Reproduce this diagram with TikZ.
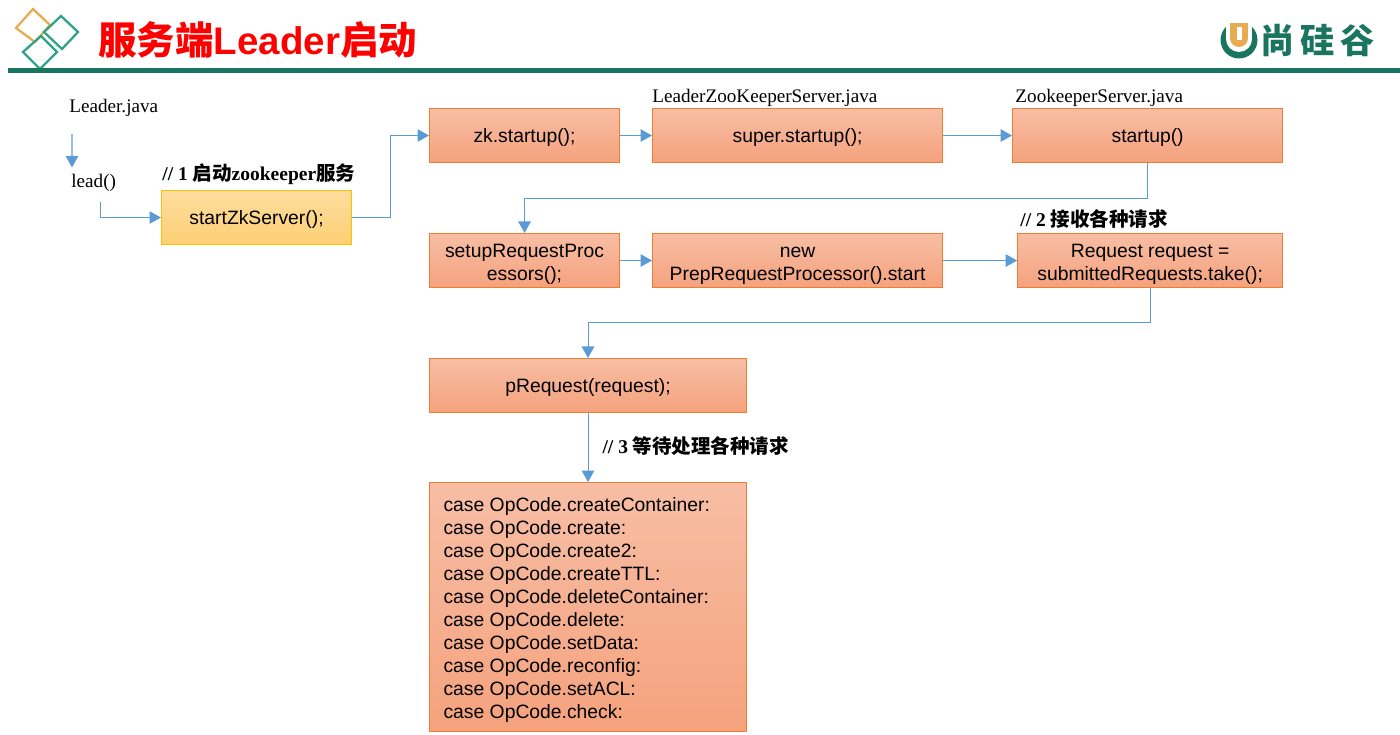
\documentclass[tikz,border=0pt]{standalone}
\usepackage{fontspec}
\setmainfont{Liberation Serif}
\setsansfont{Liberation Sans}
\newfontfamily\cjk{Noto Sans CJK SC}
\definecolor{ProcTop}{RGB}{247,190,165}
\definecolor{ProcBottom}{RGB}{245,162,125}
\definecolor{ProcLine}{RGB}{237,125,49}
\definecolor{StartTop}{RGB}{253,221,160}
\definecolor{StartBottom}{RGB}{252,207,115}
\definecolor{StartLine}{RGB}{255,192,0}
\definecolor{ArrowColor}{RGB}{91,155,213}
\definecolor{BarColor}{RGB}{26,117,96}
\definecolor{LogoGreen}{RGB}{47,163,138}
\definecolor{LogoOrange}{RGB}{232,172,80}
\usetikzlibrary{arrows.meta, positioning}
\newcommand{\linestrut}[1]{\rule{0pt}{#1}}
\tikzset{
    base/.style={
        draw,
        minimum height=1.08cm,
        align=center,
        font=\sffamily\fontsize{11}{13.1}\selectfont,
        inner sep=0pt,
        line width=0.6pt
    },
    process/.style={base, top color=ProcTop, bottom color=ProcBottom, draw=ProcLine},
    start/.style={base, top color=StartTop, bottom color=StartBottom, draw=StartLine},
    plain/.style={inner sep=0pt, font=\fontsize{10.9}{13}\selectfont},
    note/.style={plain, font=\fontsize{11.1}{13}\selectfont\bfseries},
    arrow/.style={-{Triangle[length=0.23cm,width=0.25cm]}, line width=0.6pt, draw=ArrowColor},
    diamondline/.style={line width=1.3pt, line join=miter}
}

\begin{document}
\begin{tikzpicture}
        \useasboundingbox (0,0) rectangle (28,-14.7);

        % header
        \draw[diamondline, LogoOrange] (0.66,-0.18) -- (1.0,-0.5) -- (0.7,-0.84) -- (0.32,-0.56) -- cycle;
        \draw[diamondline, LogoGreen] (1.22,-0.32) -- (1.56,-0.64) -- (1.24,-0.98) -- (0.88,-0.64) -- cycle;
        \draw[diamondline, LogoGreen] (0.82,-0.72) -- (1.14,-1.04) -- (0.8,-1.38) -- (0.46,-1.04) -- cycle;
        \fill[BarColor] (0.16,-1.37) rectangle (28,-1.46);
        \node[anchor=west, inner sep=0pt, text=red, font=\sffamily\bfseries\fontsize{21.9}{24}\selectfont] (title) at (1.96,-0.8) {{\cjk 服务端}Leader{\cjk 启动}};

        % logo
        \fill[BarColor] (24.78,-0.8) circle (0.37);
        \fill[white] (24.52,-0.38) rectangle (25.04,-0.78);
        \fill[white] (24.78,-0.78) circle (0.26);
        \fill[LogoOrange] (24.6,-0.46) rectangle (24.96,-0.76);
        \fill[LogoOrange] (24.78,-0.76) circle (0.18);
        \fill[white] (24.74,-0.54) rectangle (24.84,-0.8);
        \node[anchor=west, inner sep=0pt, text=BarColor, font=\fontsize{19.5}{22}\selectfont\bfseries] (logotext) at (25.2,-0.81) {\cjk 尚\,硅\,谷};

        % first row
        \node[process, minimum width=3.8cm, anchor=north west] (zk) at (8.58,-2.16) {\linestrut{10.4pt}zk.startup();};
        \node[process, minimum width=5.8cm, right=0.64cm of zk] (super) {\linestrut{10.4pt}super.startup();};
        \node[process, minimum width=5.4cm, right=1.38cm of super] (startup) {\linestrut{10.4pt}startup()};
        \node[plain, above right=0.03cm and 0cm of super.north west] (superfile) {LeaderZooKeeperServer.java};
        \node[plain, above right=0.03cm and 0.06cm of startup.north west] (startupfile) {ZookeeperServer.java};

        % second row
        \node[process, minimum width=3.8cm, anchor=north west] (setup) at (8.58,-4.66) {\linestrut{12pt}setupRequestProc\\essors();};
        \node[process, minimum width=5.8cm, right=0.64cm of setup] (prep) {\linestrut{12pt}new\\PrepRequestProcessor().start};
        \node[process, minimum width=5.3cm, right=1.48cm of prep] (request) {\linestrut{12pt}Request request =\\submittedRequests.take();};
        \node[note, above right=0.08cm and 0.06cm of request.north west] (note2) {// 2 {\cjk 接收各种请求}};

        % left column
        \node[plain, anchor=west] (leaderfile) at (1.38,-2.16) {Leader.java};
        \node[plain, anchor=west] (lead) at (1.42,-3.65) {lead()};
        \node[start, minimum width=3.8cm, anchor=north west] (startzk) at (3.22,-3.8) {\linestrut{10.4pt}startZkServer();};
        \node[note, above right=0.1cm and 0.02cm of startzk.north west] (note1) {// 1 {\cjk 启动}zookeeper{\cjk 服务}};

        % bottom column
        \node[process, minimum width=6.34cm, anchor=north west] (prequest) at (8.58,-7.16) {\linestrut{10.4pt}pRequest(request);};
        \node[process, minimum width=6.34cm, minimum height=4.98cm, below=1.38cm of prequest, align=left] (cases) {%
            \linestrut{11.6pt}\makebox[5.78cm][l]{case OpCode.createContainer:}\\
            case OpCode.create:\\
            case OpCode.create2:\\
            case OpCode.createTTL:\\
            case OpCode.deleteContainer:\\
            case OpCode.delete:\\
            case OpCode.setData:\\
            case OpCode.reconfig:\\
            case OpCode.setACL:\\
            case OpCode.check:};

        \draw[arrow] ([xshift=0.06cm,yshift=-0.34cm]leaderfile.south west) -- ([xshift=0.02cm,yshift=0.12cm]lead.north west);
        \draw[arrow] ([xshift=0.14cm,yshift=-0.2cm]lead.south) |- (startzk.west);
        \draw[arrow] (startzk.east) -- ++(0.76,0) |- (zk.west);
        \draw[arrow] (zk) -- (super);
        \draw[arrow] (super) -- (startup);
        \draw[arrow] (startup.south) -- ++(0,-0.7) -| (setup.north);
        \draw[arrow] (setup) -- (prep);
        \draw[arrow] (prep) -- (request);
        \draw[arrow] (request.south) -- ++(0,-0.68) -| (prequest.north);
        \draw[arrow] (prequest) -- node[note, right=0.28cm, yshift=0.04cm] (note3) {// 3 {\cjk 等待处理各种请求}} (cases);

\end{tikzpicture}
\end{document}
